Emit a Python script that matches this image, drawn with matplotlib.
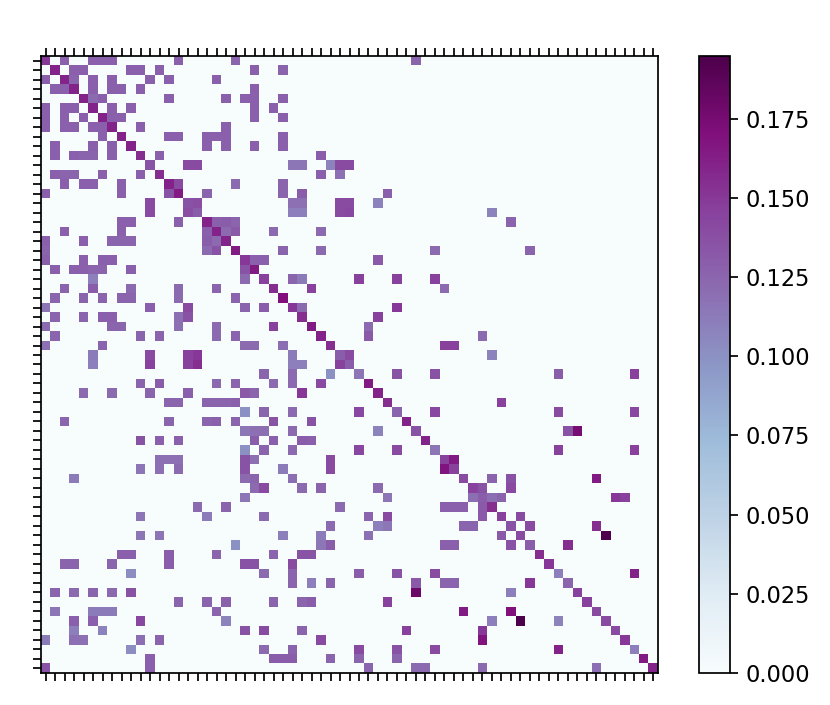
import numpy as np
import matplotlib
matplotlib.use("Agg")
import matplotlib.pyplot as plt

n_cells = 65
color_max = 0.1948
colorbar_ticks = [0.0, 0.025, 0.05, 0.075, 0.1, 0.125, 0.15, 0.175]

# each row: column -> value
row_00 = {0:.15, 2:.128, 5:.128, 6:.128, 7:.128, 14:.128, 20:.125, 39:.125}
row_01 = {1:.16, 3:.128, 4:.128, 9:.128, 10:.128, 12:.128, 22:.128, 25:.125}
row_02 = {0:.128, 2:.16, 3:.125, 5:.128, 7:.128, 11:.128, 13:.128, 18:.128}
row_03 = {1:.128, 2:.128, 3:.16, 5:.128, 7:.128, 8:.128, 10:.128, 22:.128}
row_04 = {4:.16, 5:.122, 6:.128, 13:.128, 19:.128, 21:.128, 22:.128, 25:.128}
row_05 = {0:.128, 2:.128, 3:.128, 5:.16, 7:.128, 9:.128, 22:.128, 24:.128}
row_06 = {0:.128, 2:.128, 4:.128, 6:.16, 7:.128, 8:.128, 22:.128, 25:.128}
row_07 = {0:.128, 2:.128, 3:.128, 5:.128, 6:.128, 7:.16, 10:.128, 19:.128}
row_08 = {6:.128, 8:.16, 13:.128, 14:.128, 17:.128, 18:.128, 19:.128, 25:.128}
row_09 = {1:.128, 5:.128, 7:.128, 9:.16, 17:.128, 19:.128, 22:.128, 25:.128}
row_10 = {1:.128, 3:.128, 4:.125, 5:.125, 7:.128, 10:.155, 12:.128, 29:.13}
row_11 = {11:.135, 15:.14, 16:.14, 26:.115, 27:.115, 30:.108, 31:.14, 32:.14}
row_12 = {1:.128, 2:.125, 3:.125, 6:.128, 10:.128, 12:.155, 29:.128, 31:.118}
row_13 = {2:.128, 4:.128, 5:.128, 8:.128, 13:.16, 14:.14, 20:.122, 25:.125}
row_14 = {0:.128, 8:.128, 13:.135, 14:.165, 17:.125, 25:.125, 27:.13, 36:.128}
row_15 = {11:.14, 15:.135, 16:.138, 26:.118, 27:.118, 31:.14, 32:.14, 35:.108}
row_16 = {11:.14, 15:.138, 16:.13, 26:.11, 27:.11, 31:.14, 32:.142, 47:.108}
row_17 = {8:.128, 9:.128, 14:.128, 17:.16, 18:.128, 19:.13, 20:.125, 49:.125}
row_18 = {2:.128, 8:.128, 17:.128, 18:.16, 19:.122, 20:.132, 24:.122, 29:.122}
row_19 = {0:.128, 4:.128, 7:.125, 8:.125, 9:.125, 17:.13, 18:.122, 19:.16}
row_20 = {0:.125, 17:.122, 18:.135, 20:.165, 25:.125, 29:.122, 41:.122, 51:.125}
row_21 = {0:.128, 4:.128, 6:.128, 7:.128, 21:.15, 22:.128, 23:.128, 35:.132}
row_22 = {1:.128, 3:.128, 4:.128, 5:.125, 6:.125, 9:.128, 21:.135, 22:.165}
row_23 = {5:.11, 21:.122, 23:.145, 26:.125, 27:.112, 33:.145, 37:.145, 41:.145}
row_24 = {2:.125, 5:.13, 9:.122, 14:.122, 18:.125, 24:.155, 28:.145, 42:.122}
row_25 = {1:.125, 4:.125, 6:.125, 8:.125, 9:.125, 14:.122, 20:.125, 25:.17}
row_26 = {0:.115, 11:.128, 15:.14, 21:.125, 23:.13, 26:.15, 27:.122, 37:.15}
row_27 = {1:.125, 4:.125, 6:.128, 7:.128, 14:.118, 15:.135, 27:.155, 35:.145}
row_28 = {0:.122, 7:.125, 8:.125, 14:.118, 18:.122, 24:.145, 28:.165, 34:.122}
row_29 = {1:.125, 10:.125, 12:.125, 18:.122, 20:.125, 29:.16, 34:.132, 46:.122}
row_30 = {0:.118, 6:.125, 21:.122, 22:.122, 25:.12, 30:.155, 42:.145, 43:.145}
row_31 = {5:.112, 11:.14, 15:.145, 16:.15, 26:.112, 31:.13, 32:.14, 47:.108}
row_32 = {5:.11, 11:.145, 15:.145, 16:.155, 26:.11, 27:.11, 31:.145, 32:.13}
row_33 = {23:.125, 26:.122, 30:.1, 33:.115, 37:.135, 41:.135, 54:.13, 62:.145}
row_34 = {10:.125, 12:.13, 18:.122, 20:.125, 24:.122, 26:.122, 29:.14, 34:.165}
row_35 = {4:.122, 7:.122, 11:.125, 15:.128, 21:.132, 22:.125, 27:.15, 35:.16}
row_36 = {13:.125, 14:.125, 17:.125, 18:.125, 19:.125, 20:.128, 36:.155, 48:.145}
row_37 = {21:.1, 23:.125, 26:.122, 33:.142, 37:.125, 41:.142, 54:.14, 62:.142}
row_38 = {2:.125, 13:.125, 17:.125, 18:.128, 20:.125, 24:.135, 28:.135, 38:.16}
row_39 = {21:.115, 22:.118, 23:.12, 26:.122, 35:.108, 39:.135, 55:.135, 56:.175}
row_40 = {10:.135, 12:.128, 14:.128, 22:.13, 24:.128, 27:.13, 28:.128, 40:.16}
row_41 = {21:.1, 23:.125, 26:.122, 33:.142, 37:.14, 41:.115, 54:.145, 62:.145}
row_42 = {12:.118, 13:.118, 14:.118, 21:.135, 22:.118, 30:.14, 42:.145, 43:.165}
row_43 = {10:.115, 12:.118, 14:.122, 21:.135, 25:.112, 30:.14, 42:.168, 43:.145}
row_44 = {3:.112, 21:.122, 22:.125, 26:.12, 44:.14, 47:.125, 49:.135, 58:.165}
row_45 = {22:.122, 23:.14, 27:.122, 29:.125, 35:.122, 45:.145, 46:.135, 49:.14}
row_46 = {21:.115, 36:.115, 45:.12, 46:.13, 47:.12, 48:.125, 60:.15, 61:.145}
row_47 = {16:.122, 19:.125, 31:.122, 42:.128, 43:.128, 44:.128, 46:.132, 47:.155}
row_48 = {10:.115, 17:.112, 23:.122, 34:.125, 36:.14, 46:.132, 48:.145, 50:.14}
row_49 = {30:.122, 35:.11, 36:.115, 44:.125, 45:.125, 49:.135, 51:.14, 58:.155}
row_50 = {10:.115, 12:.115, 25:.11, 29:.112, 34:.118, 48:.132, 50:.14, 59:.1948}
row_51 = {20:.1, 29:.115, 30:.13, 42:.128, 43:.128, 49:.135, 51:.13, 55:.155}
row_52 = {8:.128, 9:.128, 13:.13, 18:.125, 24:.125, 27:.135, 28:.135, 52:.155}
row_53 = {2:.125, 3:.125, 7:.125, 13:.13, 21:.135, 22:.135, 26:.14, 53:.15}
row_54 = {9:.102, 23:.122, 26:.125, 33:.13, 37:.135, 41:.14, 54:.11, 62:.16}
row_55 = {26:.125, 28:.11, 30:.125, 39:.132, 42:.125, 43:.125, 51:.15, 55:.125}
row_56 = {1:.125, 3:.122, 5:.125, 7:.122, 9:.135, 39:.18, 49:.11, 56:.145}
row_57 = {14:.125, 17:.125, 19:.128, 24:.125, 27:.125, 28:.13, 36:.145, 57:.145}
row_58 = {1:.115, 5:.112, 6:.112, 7:.112, 18:.125, 44:.165, 49:.17, 58:.14}
row_59 = {3:.128, 5:.128, 10:.142, 19:.108, 47:.11, 50:.1948, 54:.108, 59:.14}
row_60 = {3:.11, 6:.108, 21:.135, 23:.14, 27:.125, 38:.145, 46:.15, 60:.14}
row_61 = {0:.112, 3:.118, 4:.118, 10:.12, 12:.125, 29:.14, 46:.168, 61:.15}
row_62 = {9:.102, 23:.122, 26:.125, 33:.14, 37:.135, 41:.14, 54:.16, 62:.11}
row_63 = {11:.128, 24:.13, 25:.13, 26:.13, 30:.125, 33:.125, 37:.125, 63:.165}
row_64 = {0:.135, 11:.128, 34:.125, 39:.122, 40:.122, 46:.122, 58:.12, 64:.16}

rows = [row_00, row_01, row_02, row_03, row_04, row_05, row_06, row_07, row_08, row_09,
        row_10, row_11, row_12, row_13, row_14, row_15, row_16, row_17, row_18, row_19,
        row_20, row_21, row_22, row_23, row_24, row_25, row_26, row_27, row_28, row_29,
        row_30, row_31, row_32, row_33, row_34, row_35, row_36, row_37, row_38, row_39,
        row_40, row_41, row_42, row_43, row_44, row_45, row_46, row_47, row_48, row_49,
        row_50, row_51, row_52, row_53, row_54, row_55, row_56, row_57, row_58, row_59,
        row_60, row_61, row_62, row_63, row_64]

matrix = np.zeros((n_cells, n_cells))
for r, row in enumerate(rows):
    for c, v in row.items():
        matrix[r, c] = v

W, H = 830, 705
fig = plt.figure(figsize=(W / 156, H / 156), dpi=156)
ax = fig.add_axes([41 / W, 1 - 673 / H, 617 / W, 617 / H])
im = ax.imshow(matrix, cmap="BuPu", vmin=0, vmax=color_max, aspect="auto",
               interpolation="nearest")
ax.set_xticks(np.arange(n_cells))
ax.set_yticks(np.arange(n_cells))
ax.tick_params(top=True, bottom=True, left=True, right=False,
               labelbottom=False, labelleft=False)

cax = fig.add_axes([699 / W, 1 - 673 / H, 31 / W, 617 / H])
cb = fig.colorbar(im, cax=cax)
cb.set_ticks(colorbar_ticks)
cb.ax.tick_params(labelsize=10.4)

fig.savefig("out.png", dpi=156)
